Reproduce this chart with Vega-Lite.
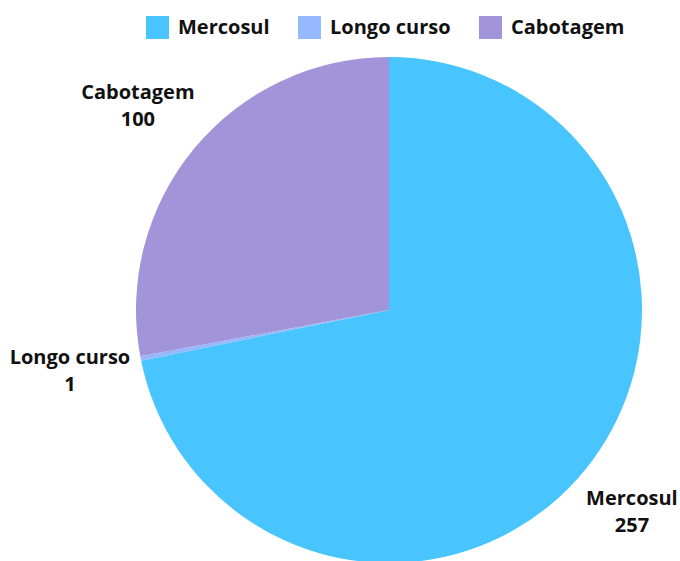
{
  "$schema": "https://vega.github.io/schema/vega-lite/v6.json",
  "autosize": "none",
  "width": 582,
  "height": 506,
  "padding": {"left": 98, "top": 57, "right": 0, "bottom": 0},
  "background": "white",
  "config": {"view": {"stroke": null}, "font": "Open Sans"},
  "data": {
    "values": [
      {"category": "Mercosul", "value": 257, "order": 1},
      {"category": "Longo curso", "value": 1, "order": 2},
      {"category": "Cabotagem", "value": 100, "order": 3}
    ]
  },
  "encoding": {
    "theta": {"field": "value", "type": "quantitative", "stack": true},
    "order": {"field": "order", "type": "quantitative"}
  },
  "layer": [
    {
      "mark": {"type": "arc", "outerRadius": 253, "stroke": "white", "strokeWidth": 0},
      "encoding": {
        "color": {
          "field": "category",
          "type": "nominal",
          "scale": {"domain": ["Mercosul", "Longo curso", "Cabotagem"], "range": ["#48C4FF", "#96B8FF", "#A194D8"]},
          "legend": {
            "title": null,
            "orient": "none",
            "direction": "horizontal",
            "legendX": 48,
            "legendY": -41,
            "symbolType": "square",
            "symbolSize": 529,
            "symbolStrokeWidth": 0,
            "symbolOpacity": 1,
            "labelFont": "Open Sans",
            "labelFontWeight": "bold",
            "labelFontSize": 20,
            "labelColor": "#111111",
            "labelOffset": 9,
            "columnPadding": 28
          }
        }
      }
    },
    {
      "transform": [{"calculate": "datum.category + '\\n' + datum.value", "as": "label"}],
      "mark": {"type": "text", "radius": 320, "dx": -5, "dy": -13, "font": "Open Sans", "fontWeight": "bold", "fontSize": 20, "lineBreak": "\n", "lineHeight": 27, "align": "center", "baseline": "middle", "color": "#111111"},
      "encoding": {"text": {"field": "label"}}
    }
  ]
}
